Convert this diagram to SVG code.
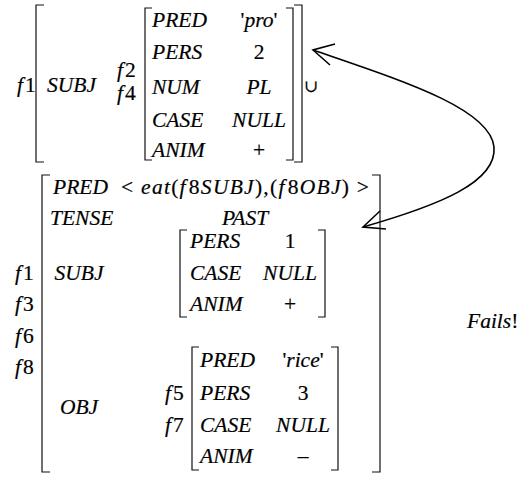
<svg xmlns="http://www.w3.org/2000/svg" width="524" height="477" viewBox="0 0 524 477">
<style>
text{font-family:"Liberation Serif","Times New Roman","DejaVu Serif",serif;font-size:21.5px;font-style:italic;fill:#000;stroke:#000;stroke-width:0.2}
.u{font-style:normal}
.m{text-anchor:middle}
.br{fill:none;stroke:#111;stroke-width:1.2}
.arr{fill:none;stroke:#000;stroke-width:1.6}
</style>
<rect width="524" height="477" fill="#fff"/>
<g id="fs-top">
<text x="17" y="92">f<tspan class="u" dx="2">1</tspan></text>
<path class="br" d="M44,5 H36 V162 H44 M294,5 H302 V162 H294"/>
<text x="47" y="92">SUBJ</text>
<g id="fs-top-subj">
<text x="117" y="77">f<tspan class="u" dx="2">2</tspan></text>
<text x="117" y="100">f<tspan class="u" dx="2">4</tspan></text>
<path class="br" d="M152,8 H145 V160 H152 M286,8 H293 V160 H286"/>
<text x="152" y="27">PRED</text>
<text x="152" y="59">PERS</text>
<text x="152" y="94">NUM</text>
<text x="152" y="127">CASE</text>
<text x="152" y="157">ANIM</text>
<text class="m" x="259" y="27"><tspan class="u">'</tspan>pro<tspan class="u">'</tspan></text>
<text class="m u" x="259" y="59">2</text>
<text class="m" x="259" y="94">PL</text>
<text class="m" x="259" y="127">NULL</text>
<text class="m u" x="259" y="157">+</text>
</g>
<text class="m u" x="311" y="92" style="font-size:17px">∪</text>
</g>
<g id="fs-main">
<text x="15" y="280">f<tspan class="u" dx="2">1</tspan></text>
<text x="15" y="311">f<tspan class="u" dx="2">3</tspan></text>
<text x="15" y="343">f<tspan class="u" dx="2">6</tspan></text>
<text x="15" y="374">f<tspan class="u" dx="2">8</tspan></text>
<path class="br" d="M50,175 H42 V472 H50 M372,175 H380 V472 H372"/>
<text x="53" y="194">PRED</text>
<text x="50" y="225">TENSE</text>
<text class="m" x="79" y="280">SUBJ</text>
<text class="m" x="79" y="414">OBJ</text>
<text x="121" y="194" textLength="248" lengthAdjust="spacing"><tspan class="u">&lt; </tspan>eat<tspan class="u">(</tspan>f<tspan class="u" dx="2">8</tspan>SUBJ<tspan class="u">),(</tspan>f<tspan class="u" dx="2">8</tspan>OBJ<tspan class="u">) &gt;</tspan></text>
<text class="m" x="245" y="225">PAST</text>
<g id="fs-main-subj">
<path class="br" d="M187,230 H180 V317 H187 M318,230 H325 V317 H318"/>
<text x="190" y="248">PERS</text>
<text x="190" y="280">CASE</text>
<text x="190" y="311">ANIM</text>
<text class="m u" x="290" y="248">1</text>
<text class="m" x="290" y="280">NULL</text>
<text class="m u" x="290" y="311">+</text>
</g>
<g id="fs-main-obj">
<text x="165" y="400">f<tspan class="u" dx="2">5</tspan></text>
<text x="165" y="432">f<tspan class="u" dx="2">7</tspan></text>
<path class="br" d="M199,347 H192 V470 H199 M331,347 H338 V470 H331"/>
<text x="200" y="367">PRED</text>
<text x="200" y="400">PERS</text>
<text x="200" y="432">CASE</text>
<text x="200" y="463">ANIM</text>
<text class="m" x="303" y="367"><tspan class="u">'</tspan>rice<tspan class="u">'</tspan></text>
<text class="m u" x="303" y="400">3</text>
<text class="m" x="303" y="432">NULL</text>
<text class="m u" x="303" y="463">–</text>
</g>
</g>
<g id="fails">
<text x="467" y="328">Fails<tspan class="u">!</tspan></text>
</g>
<g id="connectors">
<path class="arr" d="M313,50 C400,80 490,108 494,147 C497,182 440,205 363,227"/>
<path class="arr" d="M335,44 L313,50 L330,65 M380,211 L363,227 L386,229"/>
</g>
</svg>
